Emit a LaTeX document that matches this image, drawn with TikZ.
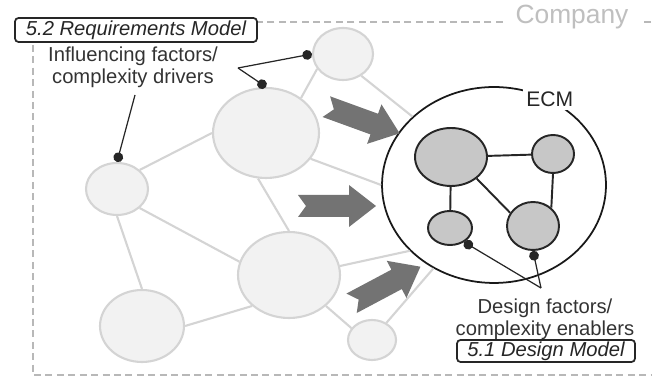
\documentclass[tikz,border=0pt]{standalone}
\usepackage{fontspec}
\setmainfont{Liberation Sans}
\usetikzlibrary{shapes.geometric,arrows}

\begin{document}
\begin{tikzpicture}[x=0.02cm, y=-0.02cm, >=latex,
  factor/.style={ellipse, draw=black!17, fill=black!5, line width=1.2pt, inner sep=0pt},
  design/.style={ellipse, draw=black!85, fill=black!22, line width=1.1pt, inner sep=0pt},
  link/.style={draw=black!17, line width=1.2pt},
  dlink/.style={draw=black!85, line width=1.1pt},
  pointer/.style={-*, draw=black!85, line width=0.7pt},
  note/.style={align=center, text=black!80, font=\fontsize{11.5}{12.5}\selectfont},
  modelbox/.style={draw=black!85, rounded corners=2pt, line width=1pt, fill=white,%
                   text=black!85, font=\fontsize{11.5}{13}\selectfont\itshape, inner sep=0pt},
  fatarrow/.style={fill=black!55}]
\useasboundingbox (0,0) rectangle (652,377);

% le cadre
\draw[black!28, line width=1.2pt, dash pattern=on 4pt off 2.5pt] (33,22) rectangle (720,375);
\node[fill=white, text=black!25, font=\fontsize{15}{17}\selectfont, inner xsep=7pt] (company) at (572,17) {Company};

% les facteurs
\node[factor, minimum width=1.2cm,  minimum height=1.04cm] (c1) at (343,54)  {};
\node[factor, minimum width=2.12cm, minimum height=1.8cm]  (c2) at (266,133) {};
\node[factor, minimum width=1.24cm, minimum height=1.04cm] (c3) at (117,189) {};
\node[factor, minimum width=1.68cm, minimum height=1.44cm] (c4) at (142,326) {};
\node[factor, minimum width=2.04cm, minimum height=1.72cm] (c5) at (289,275) {};
\node[factor, minimum width=0.96cm, minimum height=0.8cm]  (c6) at (372,340) {};

% le ECM
\node[ellipse, draw=black!90, line width=1pt, minimum width=4.48cm, minimum height=3.92cm] (ecm) at (494,185) {};
\node[fill=white, inner sep=2pt, text=black!85, font=\fontsize{12}{14}\selectfont] (ecmlab) at (ecm.57) {ECM};

% les liens
\draw[link] (c3.40)   -- (c2.180);
\draw[link] (c3.south) -- (c4.north);
\draw[link] (c3.-40)  -- (c5.165);
\draw[link] (c4.east) -- (c5.220);
\draw[link] (c2.-100) -- (c5.north);
\draw[link] (c1.210)  -- (c2.45);
\draw[link] (c5.-40)  -- (c6.150);
\draw[link] (c1.-50)  -- (ecm.140);
\draw[link] (c2.-30)  -- (ecm.west);
\draw[link] (c5.10)   -- (ecm.218);
\draw[link] (c6.50)   -- (ecm.234);

% les fleches
\foreach \x/\y/\a in {363/120/-20, 337/206/0, 386/285/28}
  \fill[fatarrow, shift={(\x,\y)}, rotate=\a]%
    (-39,-11) -- (12,-11) -- (12,-21) -- (39,0) -- (12,21) -- (12,11) -- (-39,11) -- (-31,0) -- cycle;

% le modele de conception
\node[design, minimum width=1.44cm, minimum height=1.16cm] (d1) at (451,157) {};
\node[design, minimum width=0.84cm, minimum height=0.76cm] (d2) at (553,154) {};
\node[design, minimum width=0.88cm, minimum height=0.68cm] (d3) at (450,228) {};
\node[design, minimum width=1.04cm, minimum height=0.96cm] (d4) at (533,226) {};
\draw[dlink] (d1) -- (d2);
\draw[dlink] (d1) -- (d3);
\draw[dlink] (d1.-40) -- (d4.150);
\draw[dlink] (d2.south) -- (d4.45);

% les textes
\node[note] (infl) at (133,67) {Influencing factors/\\complexity drivers};
\coordinate (ia) at (238,68);
\coordinate (ib) at (135,95);
\draw[pointer] (ia) -- (c1.west);
\draw[pointer] (ia) -- (c2.north);
\draw[pointer] (ib) -- (c3.north);

\node[note] (dlab) at (545,319) {Design factors/\\complexity enablers};
\coordinate (da) at (541,288);
\draw[pointer] (da) -- (d3.-45);
\draw[pointer] (da) -- (d4.south);

\node[modelbox, minimum width=4.84cm, minimum height=0.48cm] (rm) at (136,30)  {5.2 Requirements Model};
\node[modelbox, minimum width=3.56cm, minimum height=0.44cm] (dm) at (546,351) {5.1 Design Model};

\end{tikzpicture}
\end{document}
